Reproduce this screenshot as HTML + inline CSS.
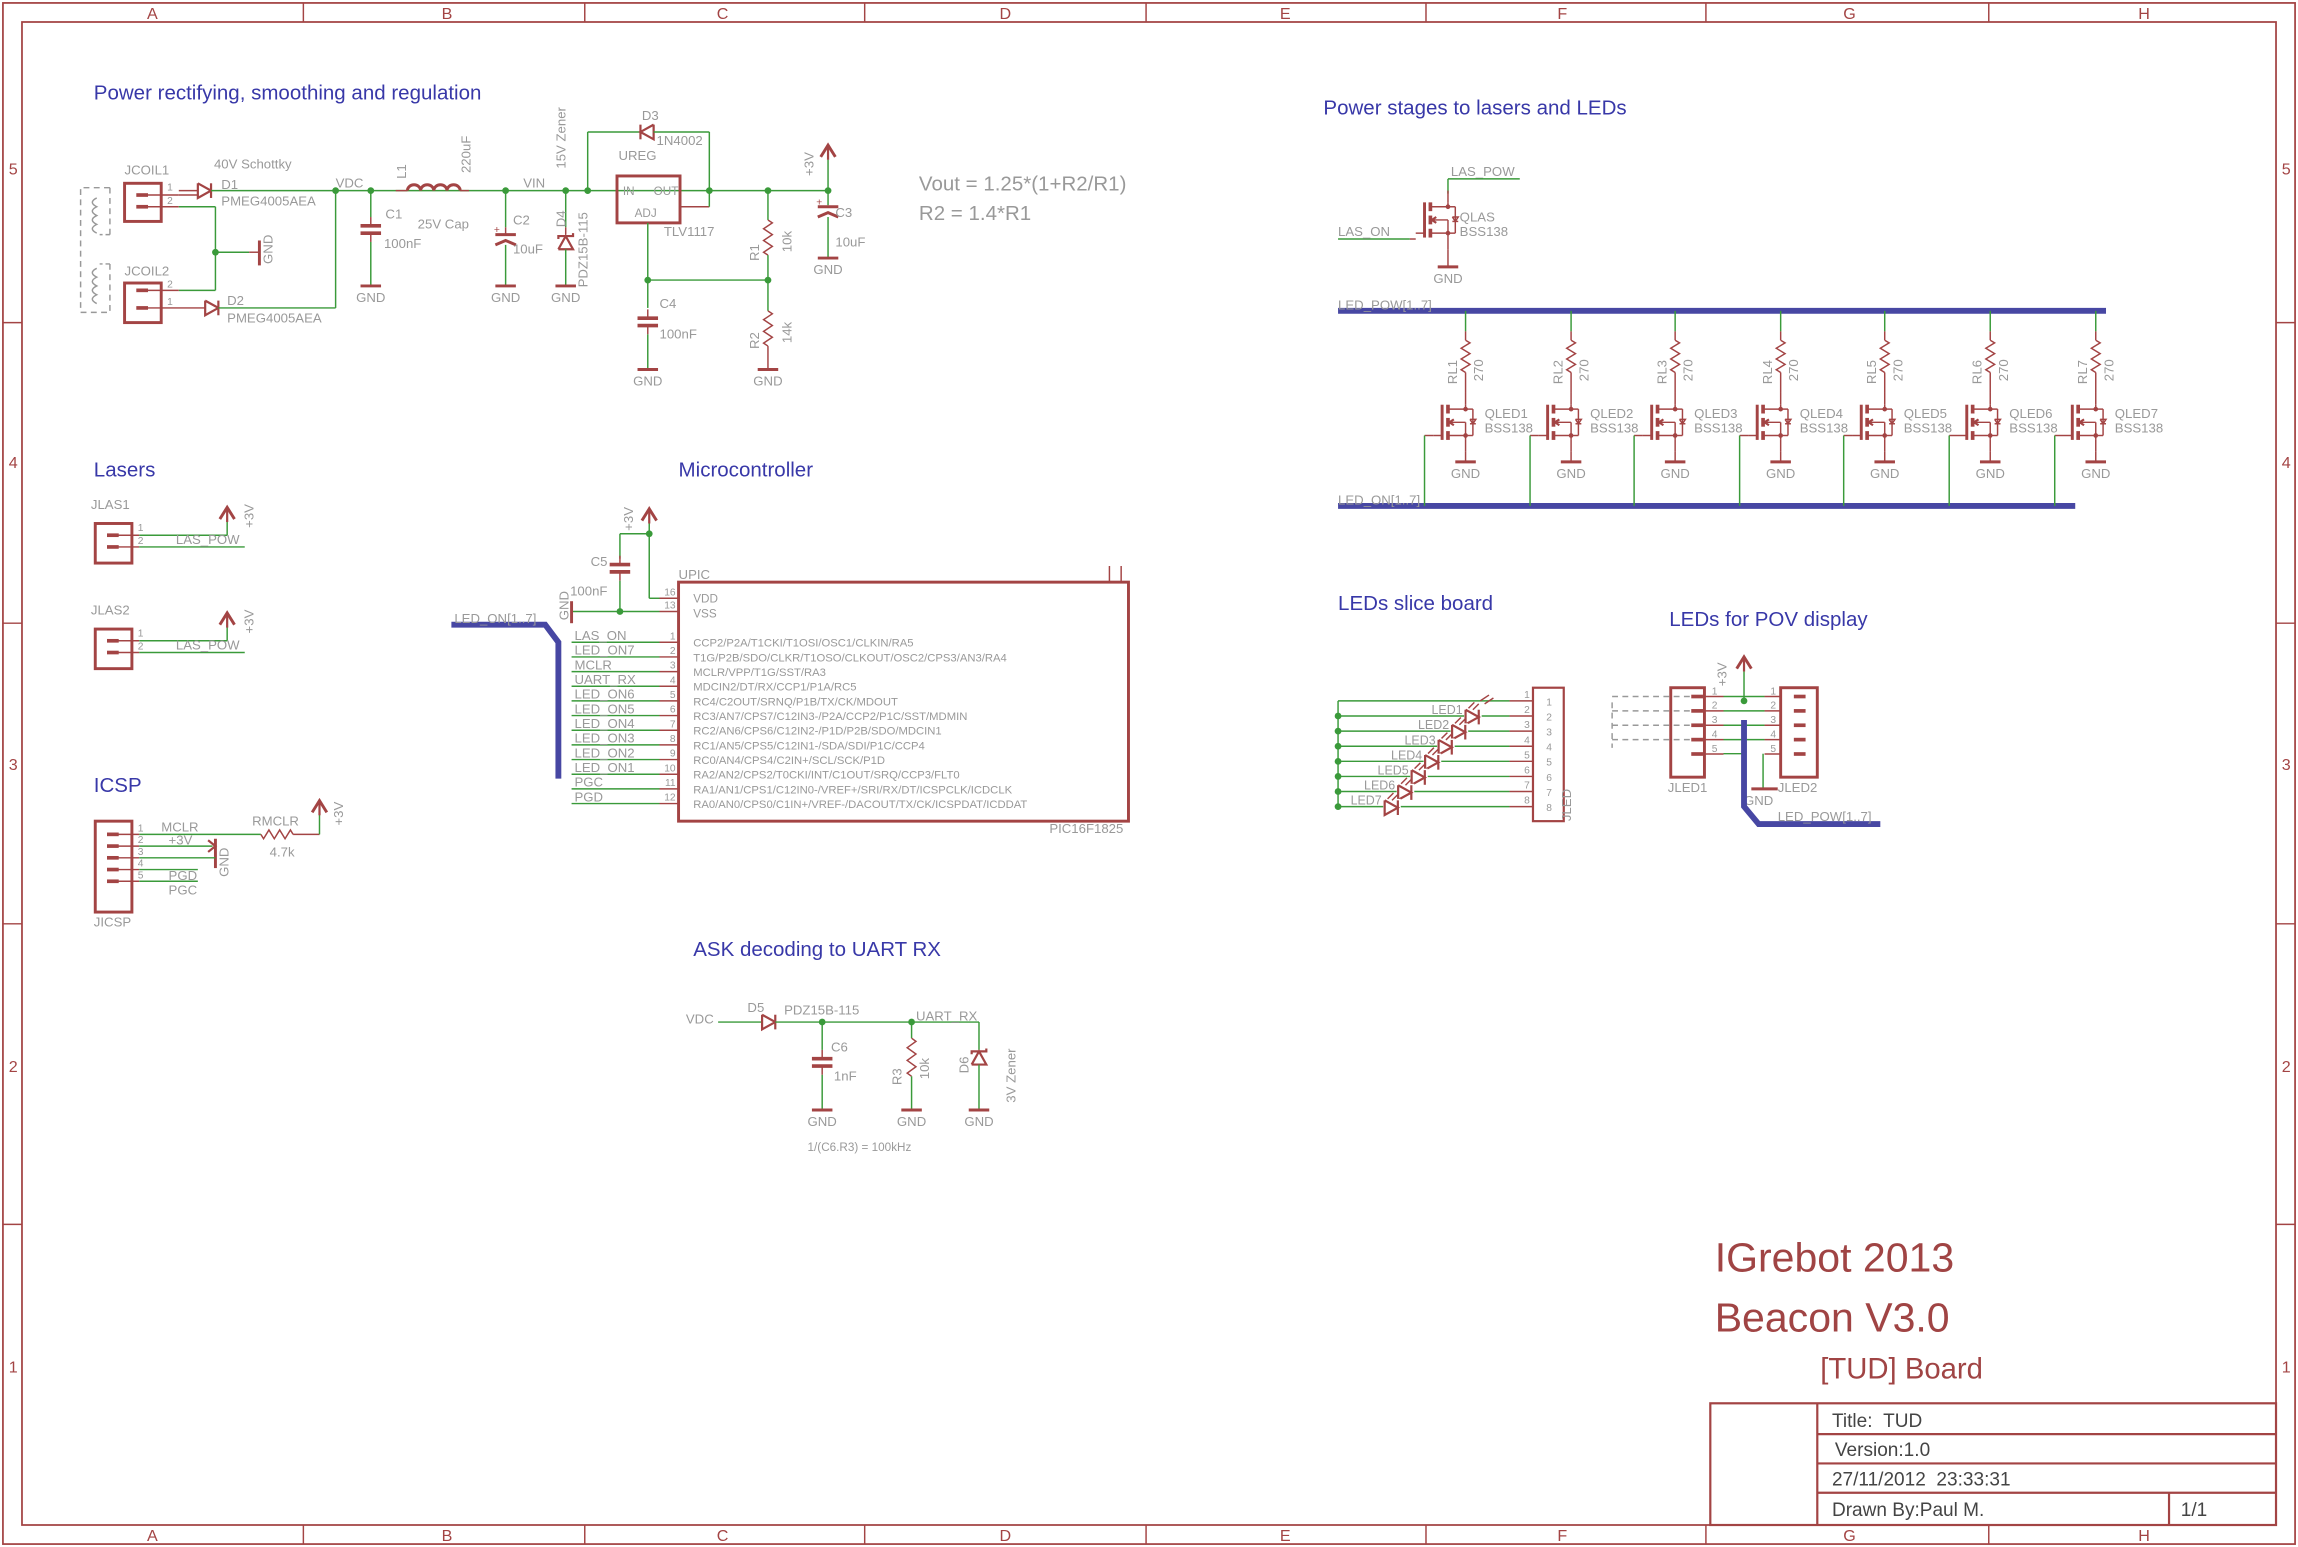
<!DOCTYPE html>
<html><head><meta charset="utf-8"><style>
html,body{margin:0;padding:0;background:#fff;}
svg{display:block;}
text{font-family:"Liberation Sans",sans-serif;}
</style></head><body>
<svg id="s" width="2298" height="1547" viewBox="0 0 1568 1055" preserveAspectRatio="none" xmlns="http://www.w3.org/2000/svg"></svg>
<script>
var R="#a34444",G="#3a9a3a",B="#4747a3",T="#999",H="#3838a8";
var o=[];
function L(x1,y1,x2,y2,c,w,d){o.push('<line x1="'+x1+'" y1="'+y1+'" x2="'+x2+'" y2="'+y2+'" stroke="'+(c||G)+'" stroke-width="'+(w||1)+'"'+(d?' stroke-dasharray="'+d+'"':'')+'/>');}
function P(pts,c,w,f,d){o.push('<polyline points="'+pts+'" fill="'+(f||'none')+'" stroke="'+(c||G)+'" stroke-width="'+(w||1)+'"'+(d?' stroke-dasharray="'+d+'"':'')+'/>');}
function X(x,y,s,sz,c,rot,anc){o.push('<text x="'+x+'" y="'+y+'" font-size="'+(sz||9)+'" fill="'+(c||T)+'"'+(rot?' transform="rotate(-90 '+x+' '+y+')"':'')+(anc?' text-anchor="'+anc+'"':'')+'>'+s+'</text>');}
function D(x,y){o.push('<circle cx="'+x+'" cy="'+y+'" r="2.3" fill="'+G+'"/>');}
function Rect(x,y,w,h,c,sw){o.push('<rect x="'+x+'" y="'+y+'" width="'+w+'" height="'+h+'" fill="none" stroke="'+(c||R)+'" stroke-width="'+(sw||2)+'"/>');}
function gnd(x,y,lbl){L(x-7,y,x+7,y,R,2);if(lbl!==false)X(x,y+11,'GND',9,T,0,'middle');}
function cap(x,y){L(x-7,y,x+7,y,R,2.5);L(x-7,y+5,x+7,y+5,R,2.5);L(x,y-6,x,y,R,1);L(x,y+5,x,y+11,R,1);}
function pcap(x,y){L(x-7,y,x+7,y,R,2);P((x-7)+','+(y+7)+' '+x+','+(y+4)+' '+(x+7)+','+(y+7),R,2);X(x-8,y-1,'+',7,R);}
function resV(x,y1,y2){var p=x+','+y1,n=6,h=(y2-y1)/n;for(var i=0;i<n;i++){p+=' '+(x+(i%2?-3:3))+','+(y1+h*(i+0.5));}p+=' '+x+','+y2;P(p,R,1);}
function resH(x1,x2,y){var p=x1+','+y,n=6,h=(x2-x1)/n;for(var i=0;i<n;i++){p+=' '+(x1+h*(i+0.5))+','+(y+(i%2?-3:3));}p+=' '+x2+','+y;P(p,R,1);}
function dioR(x,y){P(x+','+(y-5)+' '+(x+9)+','+y+' '+x+','+(y+5)+' '+x+','+(y-5),R,1.5);L(x+9,y-5,x+9,y+5,R,1.5);}
function dioL(x,y){P((x+9)+','+(y-5)+' '+x+','+y+' '+(x+9)+','+(y+5)+' '+(x+9)+','+(y-5),R,1.5);L(x,y-5,x,y+5,R,1.5);}
function zenUp(x,y){P((x-5)+','+(y+9)+' '+x+','+y+' '+(x+5)+','+(y+9)+' '+(x-5)+','+(y+9),R,1.5);P((x-5)+','+(y+2)+' '+(x-5)+','+y+' '+(x+5)+','+y+' '+(x+5)+','+(y-2),R,1.5);}
function arrow(x,y){P((x-5)+','+(y+8)+' '+x+','+y+' '+(x+5)+','+(y+8),R,2);L(x,y,x,y+10,R,1.5);}
function fet(x,y){
 L(x,y-20,x,y-12,R,1);L(x,y+12,x,y+20,R,1);
 L(x-16,y-12,x-16,y+12,R,2);L(x-12,y-12,x-12,y-6,R,2.5);L(x-12,y-3,x-12,y+3,R,2.5);L(x-12,y+6,x-12,y+12,R,2.5);
 L(x-12,y-9,x,y-9,R,1);L(x,y-12,x,y-9,R,1);L(x-12,y,x,y,R,1);L(x-12,y+9,x,y+9,R,1);L(x,y,x,y+12,R,1);
 P((x-8)+','+(y-2)+' '+(x-11)+','+y+' '+(x-8)+','+(y+2),R,1.5);
 L(x,y-9,x+5,y-9,R,1);L(x+5,y-9,x+5,y+9,R,1);L(x+5,y+9,x,y+9,R,1);
 P((x+3)+','+(y-2)+' '+(x+7)+','+(y-2)+' '+(x+5)+','+(y+1)+' '+(x+3)+','+(y-2),R,1);L(x+3,y+1,x+7,y+1,R,1);
 o.push('<circle cx="'+x+'" cy="'+(y-9)+'" r="1.6" fill="'+R+'"/><circle cx="'+x+'" cy="'+(y+9)+'" r="1.6" fill="'+R+'"/>');
 L(x-16,y+9,x-22,y+9,R,1);
}
function pinpad(x,y){L(x-4,y,x+4,y,R,2.5);}

Rect(2,2,1564,1051,R,1.2);Rect(15,15,1538,1025,R,1.2);
var cx=[207,399,590,782,973,1164,1357],cl=[[104,'A'],[305,'B'],[493,'C'],[686,'D'],[877,'E'],[1066,'F'],[1262,'G'],[1463,'H']];
cx.forEach(function(x){L(x,2,x,15,R,1);L(x,1040,x,1053,R,1);});
cl.forEach(function(c){X(c[0],13,c[1],11,R,0,'middle');X(c[0],1051,c[1],11,R,0,'middle');});
[220,425,630,835].forEach(function(y){L(2,y,15,y,R,1);L(1553,y,1566,y,R,1);});
[[115,'5'],[315,'4'],[521,'3'],[727,'2'],[932,'1']].forEach(function(r){X(9,r[0]+4,r[1],11,R,0,'middle');X(1560,r[0]+4,r[1],11,R,0,'middle');});

[[64,68,'Power rectifying, smoothing and regulation'],[903,78,'Power stages to lasers and LEDs'],[64,325,'Lasers'],[463,325,'Microcontroller'],[913,416,'LEDs slice board'],[1139,427,'LEDs for POV display'],[64,540,'ICSP'],[473,652,'ASK decoding to UART RX']].forEach(function(t){X(t[0],t[1],t[2],14,H);});

X(85,119,'JCOIL1',9);Rect(85,125,25,26);pinpad(97,133);pinpad(97,141);
L(100,133,122,133,R,1);L(100,141,122,141,R,1);X(114,130,'1',7);X(114,139,'2',7);
L(122,133,135,133,R,1);dioR(135,130);L(122,130,135,130,R,1);
L(144,130,565,130,G,1);
X(146,115,'40V Schottky',9);X(151,129,'D1',9);X(151,140,'PMEG4005AEA',9);
L(122,141,147,141,G,1);L(147,141,147,198,G,1);L(147,198,122,198,G,1);D(147,172);L(147,172,170,172,G,1);L(170,172,177,172,R,1);L(177,164,177,181,R,2);X(186,180,'GND',9,T,1);
X(85,188,'JCOIL2',9);Rect(85,193,25,27);pinpad(97,198);pinpad(97,210);
L(100,198,122,198,R,1);L(100,210,140,210,R,1);X(114,196,'2',7);X(114,208,'1',7);
dioR(140,210);L(149,210,229,210,G,1);L(229,210,229,130,G,1);X(155,208,'D2',9);X(155,220,'PMEG4005AEA',9);
P('75,128 55,128 55,213 75,213',T,1,'none','4,3');P('75,160 68,160',T,1,'none','3,2');P('75,180 68,180',T,1,'none','3,2');
o.push('<path d="M66,135 q-6,3 0,6 q-6,3 0,6 q-6,3 0,6 q-6,3 0,6" fill="none" stroke="'+T+'" stroke-width="1"/>');
o.push('<path d="M66,183 q-6,3 0,6 q-6,3 0,6 q-6,3 0,6 q-6,3 0,6" fill="none" stroke="'+T+'" stroke-width="1"/>');
L(75,128,75,160,T,1,'4,3');L(75,180,75,213,T,1,'4,3');
X(229,128,'VDC',9);D(229,130);D(253,130);
L(253,130,253,148,G,1);cap(253,154);L(253,165,253,195,G,1);gnd(253,195);X(263,149,'C1',9);X(262,169,'100nF',9);
L(270,130,278,130,R,1);o.push('<path d="M278,130 a4.5,4 0 0 1 9,0 a4.5,4 0 0 1 9,0 a4.5,4 0 0 1 9,0 a4.5,4 0 0 1 9,0" fill="none" stroke="'+R+'" stroke-width="2"/>');L(314,130,320,130,R,1);
X(277,122,'L1',9,T,1);X(321,118,'220uF',9,T,1);X(285,156,'25V Cap',9);
D(345,130);L(345,130,345,155,G,1);L(345,155,345,160,R,1);pcap(345,160);L(345,167,345,195,G,1);gnd(345,195);X(350,153,'C2',9);X(350,173,'10uF',9);
X(357,128,'VIN',9);
D(386,130);L(386,130,386,155,G,1);L(386,155,386,160,R,1);zenUp(386,161);L(386,170,386,195,G,1);gnd(386,195);
X(386,155,'D4',9,T,1);X(401,196,'PDZ15B-115',9,T,1);X(386,115,'15V Zener',9,T,1);
D(401,130);L(401,130,401,90,G,1);L(401,90,437,90,G,1);dioL(437,90);L(446,90,484,90,G,1);L(484,90,484,130,G,1);
X(438,82,'D3',9);X(448,99,'1N4002',9);
Rect(421,120,43,32);X(425,133,'IN',8);X(446,133,'OUT',8);X(433,148,'ADJ',8);X(422,109,'UREG',9);X(453,161,'TLV1117',9);
L(464,141,484,141,R,1);L(484,141,484,130,G,1);D(484,130);D(524,130);D(565,130);
L(442,152,442,210,G,1);D(442,191);L(442,191,524,191,G,1);D(524,191);
cap(442,217);L(442,228,442,252,G,1);gnd(442,252);X(450,210,'C4',9);X(450,231,'100nF',9);
L(524,130,524,150,G,1);resV(524,150,174);L(524,174,524,212,G,1);resV(524,212,236);L(524,236,524,252,R,1);gnd(524,252);
X(518,178,'R1',9,T,1);X(540,172,'10k',9,T,1);X(518,238,'R2',9,T,1);X(540,234,'14k',9,T,1);
arrow(565,99);L(565,109,565,130,G,1);L(565,130,565,140,G,1);pcap(565,141);L(565,148,565,176,G,1);gnd(565,176);
X(555,120,'+3V',9,T,1);X(570,148,'C3',9);X(570,168,'10uF',9);
X(627,130,'Vout = 1.25*(1+R2/R1)',14);X(627,150,'R2 = 1.4*R1',14);

function jlas(y,n){X(62,y-5,'JLAS'+n,9);Rect(65,357-352+y,25,27);pinpad(77,y+13);pinpad(77,y+21);
L(80,y+13,95,y+13,R,1);L(80,y+21,95,y+21,R,1);X(94,y+10,'1',7);X(94,y+19,'2',7);
L(95,y+13,155,y+13,G,1);L(155,y+13,155,y+2,G,1);arrow(155,y-6);X(173,y+8,'+3V',9,T,1);
L(95,y+21,167,y+21,G,1);X(120,y+19,'LAS_POW',9);}
jlas(352,1);jlas(424,2);

Rect(65,560,25,62);[569,577,585,593,601].forEach(function(y,i){pinpad(77,y);L(80,y,95,y,R,1);X(94,y-2,''+(i+1),7);});
L(95,569,178,569,G,1);X(110,567,'MCLR',9);resH(178,200,569);L(200,569,218,569,R,1);L(218,569,218,554,G,1);arrow(218,546);X(234,563,'+3V',9,T,1);
X(172,563,'RMCLR',9);X(184,584,'4.7k',9);
L(95,577,145,577,G,1);X(115,576,'+3V',9);P('142,573 147,577 142,581',R,1.5);L(147,572,147,592,R,2);L(95,585,147,585,G,1);X(156,598,'GND',9,T,1);
L(95,593,135,593,G,1);X(115,600,'PGD',9);L(95,601,135,601,G,1);X(115,610,'PGC',9);X(64,632,'JICSP',9);

Rect(463,397,307,163);X(463,395,'UPIC',9);X(716,568,'PIC16F1825',9);L(757,386,757,397,R,1);L(765,386,765,397,R,1);
L(450,408,463,408,R,1);L(450,417,463,417,R,1);X(461,406,'16',7,T,0,'end');X(461,415,'13',7,T,0,'end');
X(473,411,'VDD',8);X(473,421,'VSS',8);
L(450,408,443,408,G,1);L(443,408,443,355,G,1);arrow(443,347);X(432,362,'+3V',9,T,1);D(443,364);L(443,364,423,364,G,1);L(423,364,423,381,G,1);cap(423,385);L(423,396,423,417,G,1);D(423,417);
L(390,417,450,417,G,1);L(390,410,390,425,R,2);X(388,423,'GND',9,T,1);X(403,386,'C5',9);X(389,406,'100nF',9);
var pins=[['LAS_ON','CCP2/P2A/T1CKI/T1OSI/OSC1/CLKIN/RA5'],['LED_ON7','T1G/P2B/SDO/CLKR/T1OSO/CLKOUT/OSC2/CPS3/AN3/RA4'],['MCLR','MCLR/VPP/T1G/SST/RA3'],['UART_RX','MDCIN2/DT/RX/CCP1/P1A/RC5'],['LED_ON6','RC4/C2OUT/SRNQ/P1B/TX/CK/MDOUT'],['LED_ON5','RC3/AN7/CPS7/C12IN3-/P2A/CCP2/P1C/SST/MDMIN'],['LED_ON4','RC2/AN6/CPS6/C12IN2-/P1D/P2B/SDO/MDCIN1'],['LED_ON3','RC1/AN5/CPS5/C12IN1-/SDA/SDI/P1C/CCP4'],['LED_ON2','RC0/AN4/CPS4/C2IN+/SCL/SCK/P1D'],['LED_ON1','RA2/AN2/CPS2/T0CKI/INT/C1OUT/SRQ/CCP3/FLT0'],['PGC','RA1/AN1/CPS1/C12IN0-/VREF+/SRI/RX/DT/ICSPCLK/ICDCLK'],['PGD','RA0/AN0/CPS0/C1IN+/VREF-/DACOUT/TX/CK/ICSPDAT/ICDDAT']];
pins.forEach(function(p,i){var y=438+i*10;L(390,y,450,y,G,1);L(450,y,463,y,R,1);X(392,y-1.5,p[0],9);X(461,y-2,''+(i+1),7,T,0,'end');X(473,y+3,p[1],7.7);});
P('308,426 372,426 381,438 381,531',B,4);X(310,425,'LED_ON[1..7]',9);

X(468,698,'VDC',9);L(490,697,520,697,G,1);dioR(520,697);L(529,697,668,697,G,1);X(510,690,'D5',9);X(535,692,'PDZ15B-115',9);
D(561,697);L(561,697,561,716,G,1);cap(561,722);L(561,733,561,757,G,1);gnd(561,757);X(567,717,'C6',9);X(569,737,'1nF',9);
D(622,697);L(622,697,622,708,G,1);resV(622,708,734);L(622,734,622,757,G,1);gnd(622,757);X(615,740,'R3',9,T,1);X(634,736,'10k',9,T,1);X(625,696,'UART_RX',9);
L(668,697,668,716,G,1);zenUp(668,717);L(668,726,668,757,G,1);gnd(668,757);X(661,732,'D6',9,T,1);X(693,752,'3V Zener',9,T,1);
X(551,785,'1/(C6.R3) = 100kHz',8);

X(990,120,'LAS_POW',9);L(988,122,1037,122,G,1);L(988,122,988,132,G,1);fet(988,150);L(913,163,962,163,G,1);L(962,163,966,163,R,1);L(988,170,988,182,R,1);gnd(988,182);
X(996,151,'QLAS',9);X(996,161,'BSS138',9);X(913,161,'LAS_ON',9);
L(913,212,1437,212,B,4);X(913,211,'LED_POW[1..7]',9);
L(913,345,1416,345,B,4);X(913,344,'LED_ON[1..7]',9);
for(var k=0;k<7;k++){var x=Math.round(1000+k*71.6);
 L(x,212,x,226,G,1);L(x,226,x,232,R,1);resV(x,232,254);L(x,254,x,268,R,1);fet(x,288);L(x,308,x,315,R,1);gnd(x,315);
 X(x-6,262,'RL'+(k+1),9,T,1);X(x+12,260,'270',9,T,1);X(x+13,285,'QLED'+(k+1),9);X(x+13,295,'BSS138',9);
 L(x-22,297,x-28,297,R,1);L(x-28,297,x-28,345,G,1);}

Rect(1046,469,21,91,R,1.5);X(1072,560,'JLED',9,T,1);
for(var i=0;i<8;i++){var y=478+i*10.3;L(913,y,1030,y,G,1);L(1030,y,1046,y,R,1);X(1040,y-2,''+(i+1),7);X(1057,y+3,''+(i+1),7,T,0,'middle');if(i>0)D(913,y);}
L(913,478,913,550,G,1);
for(var i=0;i<7;i++){var y=489+i*10.3,xx=1005-i*9.2;X(xx-7,y-2,'LED'+(i+1),8.5,T,0,'end');
 o.push('<rect x="'+(xx-6)+'" y="'+(y-6)+'" width="12" height="12" fill="#fff"/>');
 dioR(xx-5,y);
 L(xx-3,y-6,xx+1,y-10,R,1);L(xx,y-5,xx+4,y-9,R,1);}
L(1010,478,1016,474,R,1);L(1013,480,1019,476,R,1);
Rect(1140,469,23,61,R,2);Rect(1215,469,25,61,R,2);X(1138,540,'JLED1',9);X(1213,540,'JLED2',9);
for(var i=0;i<5;i++){var y=475+i*9.8;pinpad(1158,y);pinpad(1228,y);L(1163,y,1176,y,R,1);L(1204,y,1215,y,R,1);X(1168,y-1.5,''+(i+1),7);X(1208,y-1.5,''+(i+1),7);
 if(i<4){L(1100,y,1155,y,T,1,'4,3');L(1176,y,1204,y,G,1);}}
L(1176,514,1190,514,G,1);L(1203,514,1203,538,G,1);L(1195,538,1213,538,R,2);X(1190,549,'GND',9);
L(1100,479,1100,510,T,1,'4,3');
arrow(1190,448);L(1190,458,1190,478,G,1);D(1190,478);X(1178,468,'+3V',9,T,1);
P('1190,491 1190,550 1200,562 1283,562',B,4);X(1213,560,'LED_POW[1..7]',9);

X(1170,867,'IGrebot 2013',28,'#a04444');X(1170,908,'Beacon V3.0',28,'#a04444');X(1242,940,'[TUD] Board',20,'#a04444');
Rect(1167,957,386,83,R,1.5);L(1240,957,1240,1040,R,1.5);L(1240,978,1553,978,R,1.5);L(1240,998,1553,998,R,1.5);L(1240,1018,1553,1018,R,1.5);L(1480,1018,1480,1040,R,1.5);
X(1250,973,'Title:&#160;&#160;TUD',13,'#444');X(1252,993,'Version:1.0',13,'#444');X(1250,1013,'27/11/2012&#160;&#160;23:33:31',13,'#444');X(1250,1034,'Drawn By:Paul M.',13,'#444');X(1488,1034,'1/1',13,'#444');
document.getElementById('s').innerHTML=o.join('');
</script>
</body></html>
